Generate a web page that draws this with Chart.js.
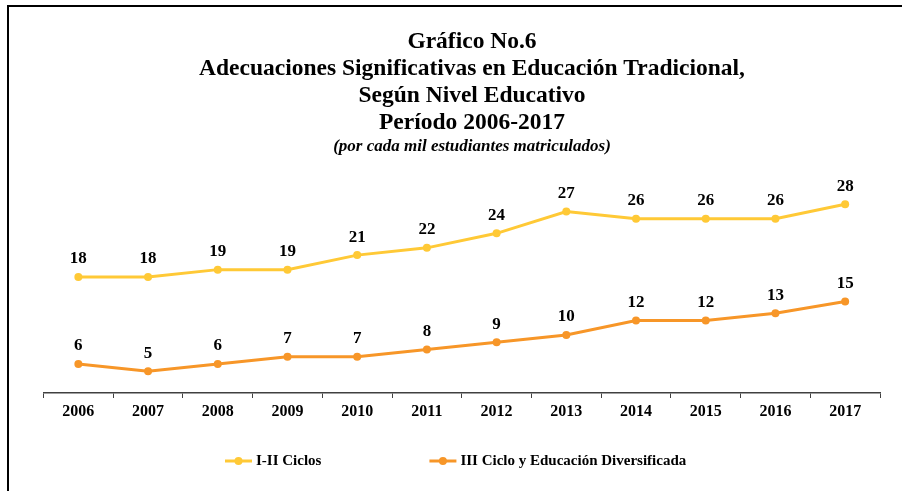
<!DOCTYPE html>
<html>
<head>
<meta charset="utf-8">
<script src="https://cdn.jsdelivr.net/npm/chart.js@4.4.1/dist/chart.umd.min.js"></script>
<style>
  html, body { margin: 0; padding: 0; background: #fff; }
  #wrap { position: relative; width: 902px; height: 491px; }
  #frame { position: absolute; left: 7px; top: 5px; right: 0; bottom: 0; border-top: 2px solid #000; border-left: 2px solid #000; pointer-events: none; }
</style>
</head>
<body>
<div id="wrap">
  <canvas id="chart" width="902" height="491"></canvas>
  <div id="frame"></div>
</div>
<script>
const YEARS = ['2006', '2007', '2008', '2009', '2010', '2011', '2012', '2013', '2014', '2015', '2016', '2017'];
const CICLOS_I_II = [18, 18, 19, 19, 21, 22, 24, 27, 26, 26, 26, 28];
const CICLO_III_DIV = [6, 5, 6, 7, 7, 8, 9, 10, 12, 12, 13, 14.6];
const SERIES_NAMES = ['I-II Ciclos', 'III Ciclo y Educación Diversificada'];
const TITLE_LINES = [
  'Gráfico No.6',
  'Adecuaciones Significativas en Educación Tradicional,',
  'Según Nivel Educativo',
  'Período 2006-2017'
];
const SUBTITLE = '(por cada mil estudiantes matriculados)';

const SERIF = '"Liberation Serif", "Times New Roman", serif';
const YELLOW = '#FFC936';
const ORANGE = '#F79628';

// numbers above each point
const valueLabels = {
  id: 'valueLabels',
  afterDatasetsDraw(chart) {
    const ctx = chart.ctx;
    ctx.save();
    ctx.font = `bold 17px ${SERIF}`;
    ctx.fillStyle = '#000';
    ctx.textAlign = 'center';
    ctx.textBaseline = 'middle';
    chart.data.datasets.forEach((ds, i) => {
      chart.getDatasetMeta(i).data.forEach((pt, j) => {
        ctx.fillText(Math.round(ds.data[j]), pt.x, pt.y - 18);
      });
    });
    ctx.restore();
  }
};

// legend with line + dot markers, spread wide like the original
const lineLegend = {
  id: 'lineLegend',
  afterDraw(chart) {
    const ctx = chart.ctx;
    const y = 461;
    let x = 225;
    ctx.save();
    ctx.font = `bold 15px ${SERIF}`;
    ctx.textBaseline = 'middle';
    ctx.textAlign = 'left';
    chart.data.datasets.forEach(ds => {
      ctx.strokeStyle = ds.borderColor;
      ctx.lineWidth = 3;
      ctx.beginPath();
      ctx.moveTo(x, y);
      ctx.lineTo(x + 27, y);
      ctx.stroke();
      ctx.fillStyle = ds.borderColor;
      ctx.beginPath();
      ctx.arc(x + 13.5, y, 4, 0, Math.PI * 2);
      ctx.fill();
      ctx.fillStyle = '#000';
      ctx.fillText(ds.label, x + 31, y);
      x += 31 + ctx.measureText(ds.label).width + 108;
    });
    ctx.restore();
  }
};

const main = () => {
  const canvas = document.getElementById('chart');

  const data = {
    labels: YEARS,
    datasets: [{
      label: SERIES_NAMES[0],
      data: CICLOS_I_II,
      borderColor: YELLOW,
      backgroundColor: YELLOW,
      pointBackgroundColor: YELLOW,
      borderWidth: 3,
      pointRadius: 4,
      pointBorderWidth: 0,
      tension: 0
    },
    {
      label: SERIES_NAMES[1],
      data: CICLO_III_DIV,
      borderColor: ORANGE,
      backgroundColor: ORANGE,
      pointBackgroundColor: ORANGE,
      borderWidth: 3,
      pointRadius: 4,
      pointBorderWidth: 0,
      tension: 0
    }]
  };

  const options = {
    responsive: false,
    animation: false,
    layout: {
      // title block is centred a bit right of the plot, so keep right padding small
      padding: { top: 10, left: 43.5, right: 1.5, bottom: 58 }
    },
    plugins: {
      legend: { display: false },
      tooltip: { enabled: false },
      title: {
        display: true,
        text: TITLE_LINES,
        color: '#000',
        font: { family: SERIF, size: 23.5, weight: 'bold', lineHeight: 27 / 23.5 },
        padding: { top: 18, bottom: 0 }
      },
      subtitle: {
        display: true,
        text: SUBTITLE,
        color: '#000',
        font: { family: SERIF, size: 17, weight: 'bold', style: 'italic', lineHeight: 1.2 },
        padding: { top: 0, bottom: 33.4 }
      }
    },
    scales: {
      x: {
        offset: true,
        grid: {
          offset: true,
          drawOnChartArea: false,
          drawTicks: true,
          tickLength: 5,
          color: '#404040',
          lineWidth: 1
        },
        border: { display: true, color: '#404040', width: 1.5 },
        ticks: {
          color: '#000',
          padding: 4,
          maxRotation: 0,
          font: { family: SERIF, size: 16, weight: 'bold' }
        },
        afterFit: (scale) => { scale.height = 40; }
      },
      y: {
        position: 'right',
        min: 2,
        max: 30,
        grid: { display: false },
        border: { display: false },
        ticks: { display: false },
        // invisible spacer on the right of the plot
        afterFit: (scale) => { scale.width = 20.5; }
      }
    }
  };

  new Chart(canvas, {
    type: 'line',
    data,
    options,
    plugins: [valueLabels, lineLegend]
  });
};

main();
</script>
</body>
</html>
